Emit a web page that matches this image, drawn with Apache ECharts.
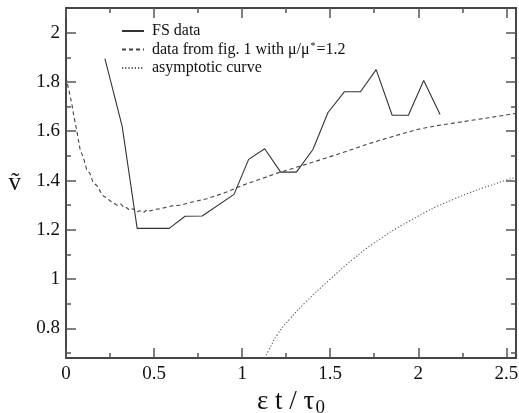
<!DOCTYPE html>
<html><head><meta charset="utf-8">
<script src="https://cdn.jsdelivr.net/npm/echarts@6/dist/echarts.min.js"></script>
<style>html,body{margin:0;padding:0;background:#fff}#c{width:519px;height:413px}</style>
</head><body><div id="c"></div>
<script>
// FS data (solid)
const fsX = [0.221, 0.319, 0.404, 0.586, 0.676, 0.773, 0.954, 1.037, 1.128, 1.219, 1.308, 1.402, 1.487, 1.580, 1.672, 1.761, 1.852, 1.944, 2.031, 2.124];
const fsY = [1.895, 1.62, 1.206, 1.206, 1.255, 1.256, 1.344, 1.486, 1.529, 1.434, 1.434, 1.526, 1.675, 1.760, 1.760, 1.850, 1.665, 1.665, 1.806, 1.668];
// data from fig. 1 with mu/mu* = 1.2 (dashed)
const figX = [0, 0.015, 0.032, 0.045, 0.06, 0.07, 0.08, 0.1, 0.117, 0.135, 0.155, 0.175, 0.195, 0.212, 0.23, 0.25, 0.268, 0.29, 0.31, 0.33, 0.344, 0.36, 0.38, 0.4, 0.42, 0.44, 0.46, 0.48, 0.5, 0.53, 0.56, 0.6, 0.65, 0.7, 0.8, 0.9, 1.0, 1.1, 1.2, 1.3, 1.4, 1.5, 1.6, 1.7, 1.8, 1.9, 2.0, 2.1, 2.2, 2.3, 2.4, 2.5, 2.55];
const figY = [1.82, 1.77, 1.715, 1.66, 1.607, 1.61, 1.526, 1.49, 1.445, 1.43, 1.39, 1.38, 1.355, 1.337, 1.33, 1.318, 1.31, 1.30, 1.305, 1.29, 1.29, 1.28, 1.286, 1.272, 1.277, 1.27, 1.282, 1.276, 1.283, 1.285, 1.29, 1.297, 1.30, 1.31, 1.326, 1.35, 1.38, 1.405, 1.43, 1.452, 1.474, 1.497, 1.52, 1.545, 1.567, 1.588, 1.608, 1.622, 1.633, 1.644, 1.655, 1.666, 1.672];
// asymptotic curve (dotted)
const asX = [1.128, 1.15, 1.2, 1.27, 1.36, 1.5, 1.63, 1.74, 1.95, 2.2, 2.5, 2.555];
const asY = [0.68, 0.71, 0.775, 0.838, 0.906, 1.0, 1.081, 1.142, 1.236, 1.324, 1.402, 1.412];

const xMajor = [0, 0.5, 1, 1.5, 2, 2.5];
const xMinor = [0.25, 0.75, 1.25, 1.75, 2.25];
const yMajor = [0.8, 1, 1.2, 1.4, 1.6, 1.8, 2];
const yMinor = [0.7, 0.9, 1.1, 1.3, 1.5, 1.7, 1.9];

const seriesNames = ['FS data', 'data from fig. 1 with μ/μ*=1.2', 'asymptotic curve'];

const zip = (a, b) => a.map((v, i) => [v, b[i]]);
const AX = '#3a3a3a';
const SERIF = '"Liberation Serif","DejaVu Serif",serif';

function xAx(pos, ticks, len, labels) {
  return {
    type: 'value', position: pos, min: 0, max: 2.555,
    axisLine: { show: true, onZero: false, lineStyle: { color: AX, width: 1.5 } },
    axisTick: { show: true, inside: true, length: len, customValues: ticks, lineStyle: { color: '#555', width: 1.5 } },
    axisLabel: labels ? { show: true, customValues: ticks, fontFamily: SERIF, fontSize: 19, color: '#111', margin: 7 } : { show: false },
    splitLine: { show: false }
  };
}
function yAx(pos, ticks, len, labels) {
  return {
    type: 'value', position: pos, min: 0.68, max: 2.1,
    axisLine: { show: true, onZero: false, lineStyle: { color: AX, width: 1.5 } },
    axisTick: { show: true, inside: true, length: len, customValues: ticks, lineStyle: { color: '#555', width: 1.5 } },
    axisLabel: labels ? { show: true, customValues: ticks, fontFamily: SERIF, fontSize: 19, color: '#111', margin: 6 } : { show: false },
    splitLine: { show: false }
  };
}

const xs = [xAx('bottom', xMajor, 10, true), xAx('bottom', xMinor, 5, false), xAx('top', xMajor, 10, false), xAx('top', xMinor, 5, false)];
xs[0].name = '{a|ε t / τ}{b|0}';
xs[0].nameLocation = 'middle';
xs[0].nameGap = 13;
xs[0].nameTextStyle = { fontFamily: SERIF, color: '#111', rich: { a: { fontSize: 27, fontFamily: SERIF, color: '#111' }, b: { fontSize: 19, fontFamily: SERIF, color: '#111', padding: [12, 0, 0, 1] } } };
const ys = [yAx('left', yMajor, 10, true), yAx('left', yMinor, 5, false), yAx('right', yMajor, 10, false), yAx('right', yMinor, 5, false)];
ys[0].name = 'ṽ';
ys[0].nameLocation = 'middle';
ys[0].nameRotate = 0;
ys[0].nameGap = 45;
ys[0].nameTextStyle = { fontFamily: SERIF, fontSize: 25, color: '#111' };

const chart = echarts.init(document.getElementById('c'), null, { renderer: 'canvas' });
chart.setOption({
  animation: false,
  backgroundColor: '#fff',
  grid: { left: 66, right: 3, top: 8, bottom: 55, containLabel: false, outerBoundsMode: 'none' },
  xAxis: xs,
  yAxis: ys,
  legend: {
    orient: 'vertical', left: 116, top: 18, itemWidth: 22, itemHeight: 12, itemGap: 2,
    data: seriesNames,
    itemStyle: { opacity: 0 },
    formatter: function (n) {
      if (n === seriesNames[1]) return '{a|data from fig. 1 with μ/μ}{s|*}{a|=1.2}';
      return '{a|' + n + '}';
    },
    textStyle: { fontFamily: SERIF, fontSize: 16, color: '#111', padding: [0, 0, 0, 3],
      rich: { a: { fontFamily: SERIF, fontSize: 16, lineHeight: 17, color: '#111' }, s: { fontFamily: SERIF, fontSize: 10, lineHeight: 10, color: '#111', padding: [0, 1, 7, 1] } } }
  },
  series: [
    { name: seriesNames[0], type: 'line', data: zip(fsX, fsY), symbol: 'none', lineStyle: { color: '#333', width: 1.1, type: 'solid' }, itemStyle: { color: '#333' } },
    { name: seriesNames[1], type: 'line', data: zip(figX, figY), symbol: 'none', lineStyle: { color: '#444', width: 1.1, type: [4, 3] }, itemStyle: { color: '#444' } },
    { name: seriesNames[2], type: 'line', data: zip(asX, asY), symbol: 'none', smooth: true, lineStyle: { color: '#555', width: 1.1, type: [1.2, 2] }, itemStyle: { color: '#555' } }
  ]
});
</script></body></html>
